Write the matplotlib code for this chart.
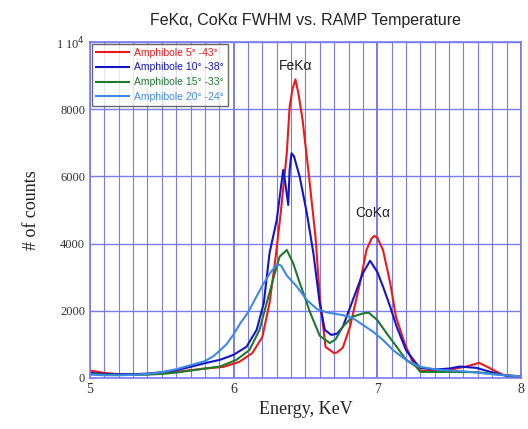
import matplotlib
matplotlib.use("Agg")
import matplotlib.pyplot as plt
from matplotlib.ticker import MultipleLocator, FixedLocator

# energies (keV) and counts, one pair of lists per series
red_e = [5.0, 5.1, 5.2, 5.3, 5.4, 5.5, 5.6, 5.7, 5.8, 5.93, 6.04, 6.13, 6.2, 6.25,
         6.29, 6.33, 6.37, 6.39, 6.41, 6.43, 6.45, 6.48, 6.52, 6.57, 6.6, 6.64,
         6.7, 6.72, 6.76, 6.81, 6.88, 6.925, 6.96, 6.98, 7.0, 7.04, 7.09, 7.13,
         7.19, 7.25, 7.3, 7.4, 7.5, 7.62, 7.71, 7.78, 7.87, 8.0]
red_c = [220, 150, 110, 100, 110, 140, 180, 230, 280, 330, 480, 740, 1220, 2230,
         3510, 5000, 6690, 8075, 8600, 8890, 8500, 7680, 6190, 4200, 2400, 920,
         740, 760, 900, 1520, 2830, 3810, 4150, 4230, 4180, 3810, 2830, 1825,
         1040, 440, 220, 200, 240, 340, 450, 300, 100, 40]

blue_e = [5.0, 5.1, 5.2, 5.3, 5.4, 5.5, 5.6, 5.7, 5.8, 5.905, 6.0, 6.09, 6.16,
          6.21, 6.25, 6.3, 6.33, 6.345, 6.36, 6.38, 6.39, 6.403, 6.42, 6.46,
          6.51, 6.555, 6.6, 6.635, 6.68, 6.72, 6.76, 6.83, 6.9, 6.95, 7.0, 7.04,
          7.09, 7.135, 7.2, 7.27, 7.3, 7.4, 7.5, 7.575, 7.69, 7.78, 7.92, 8.0]
blue_c = [150, 120, 110, 110, 130, 170, 230, 330, 440, 540, 690, 930, 1430,
          2230, 3720, 4700, 5700, 6190, 5800, 5150, 6200, 6690, 6600, 5990,
          4900, 3720, 2200, 1430, 1280, 1320, 1520, 2320, 3120, 3490, 3160, 2720,
          2120, 1530, 830, 440, 300, 250, 280, 340, 300, 190, 40, 20]

green_e = [5.0, 5.1, 5.2, 5.3, 5.4, 5.5, 5.6, 5.7, 5.8, 5.905, 6.02, 6.11, 6.18,
           6.23, 6.28, 6.32, 6.37, 6.415, 6.46, 6.51, 6.53, 6.6, 6.67, 6.71,
           6.76, 6.83, 6.9, 6.94, 7.0, 7.065, 7.135, 7.2, 7.27, 7.3, 7.5, 7.7,
           7.85, 8.0]
green_c = [120, 100, 90, 90, 100, 120, 160, 220, 280, 340, 540, 830, 1430,
           2230, 3015, 3610, 3810, 3410, 2830, 2230, 1975, 1250, 1040, 1150,
           1530, 1825, 1920, 1945, 1725, 1330, 930, 540, 340, 180, 180, 170,
           100, 40]

lblue_e = [5.0, 5.1, 5.2, 5.3, 5.4, 5.5, 5.6, 5.7, 5.8, 5.86, 5.9, 5.95, 6.0,
           6.05, 6.1, 6.15, 6.2, 6.25, 6.3, 6.33, 6.37, 6.44, 6.51, 6.58, 6.65,
           6.76, 6.83, 6.9, 6.97, 7.04, 7.11, 7.18, 7.25, 7.3, 7.43, 7.62, 7.85,
           8.0]
lblue_c = [100, 80, 80, 90, 120, 170, 260, 380, 500, 650, 800, 1000, 1300,
           1650, 1950, 2350, 2750, 3100, 3380, 3350, 3050, 2720, 2320, 2050, 1950,
           1870, 1780, 1580, 1380, 1130, 830, 600, 420, 330, 240, 190, 90, 50]

series_labels = ["Amphibole 5\u00b0 -43\u00b0", "Amphibole 10\u00b0 -38\u00b0",
                 "Amphibole 15\u00b0 -33\u00b0", "Amphibole 20\u00b0 -24\u00b0"]
y_ticks = [0, 2000, 4000, 6000, 8000, 10000]
y_tick_labels = ["0", "2000", "4000", "6000", "8000", "1 10$^4$"]
x_ticks = [5, 6, 7, 8]

colors = ["#f01818", "#1414cc", "#1f7a2e", "#3d8ae6"]
grid_col = "#7b7bf0"

fig = plt.figure(figsize=(5.28, 4.29), dpi=100)
ax = fig.add_axes([0.1705, 0.119, 0.816, 0.783])

data = [(red_e, red_c), (blue_e, blue_c), (green_e, green_c), (lblue_e, lblue_c)]
for (e, c), col, lab in zip(data, colors, series_labels):
    ax.plot(e, c, color=col, lw=1.5, label=lab)

ax.set_xlim(5, 8)
ax.set_ylim(0, 10000)
ax.xaxis.set_major_locator(FixedLocator(x_ticks))
ax.xaxis.set_minor_locator(MultipleLocator(0.1))
ax.yaxis.set_major_locator(FixedLocator(y_ticks))
ax.set_yticklabels(y_tick_labels)

ax.grid(True, which="major", axis="x", color=grid_col, lw=1.4)
ax.grid(True, which="minor", axis="x", color=grid_col, lw=0.8)
ax.grid(True, which="major", axis="y", color=grid_col, lw=1.0)
ax.set_axisbelow(True)
for s in ax.spines.values():
    s.set_color(grid_col)
    s.set_linewidth(1.2)
ax.tick_params(which="both", direction="in", colors=grid_col, labelcolor="#333333")
ax.tick_params(which="minor", length=3)

serif = ["Liberation Serif", "DejaVu Serif"]
for t in ax.get_xticklabels():
    t.set_family(serif)
    t.set_fontsize(10)
for t in ax.get_yticklabels():
    t.set_family(serif)
    t.set_fontsize(9)

ax.set_xlabel("Energy, KeV", family=serif, fontsize=13, color="#222222", labelpad=4)
ax.set_ylabel("# of counts", family=serif, fontsize=13, color="#222222", labelpad=12)
ax.set_title("FeK\u03b1, CoK\u03b1 FWHM vs. RAMP Temperature", family="Liberation Sans",
             fontsize=11.5, color="#222222", pad=12)

ax.text(6.43, 9300, "FeK\u03b1", family="Liberation Sans", fontsize=10,
        ha="center", va="center", color="#222222")
ax.text(6.97, 4900, "CoK\u03b1", family="Liberation Sans", fontsize=10,
        ha="center", va="center", color="#222222")

leg = ax.legend(loc="upper left", frameon=True, fancybox=False,
                borderaxespad=0.15, handlelength=3.2, handletextpad=0.5,
                labelspacing=0.45, prop={"family": "Liberation Sans", "size": 7.5})
leg.get_frame().set_edgecolor("#444444")
leg.get_frame().set_linewidth(1.0)
for txt, col in zip(leg.get_texts(), colors):
    txt.set_color(col)

fig.savefig("out.png", dpi=100)
